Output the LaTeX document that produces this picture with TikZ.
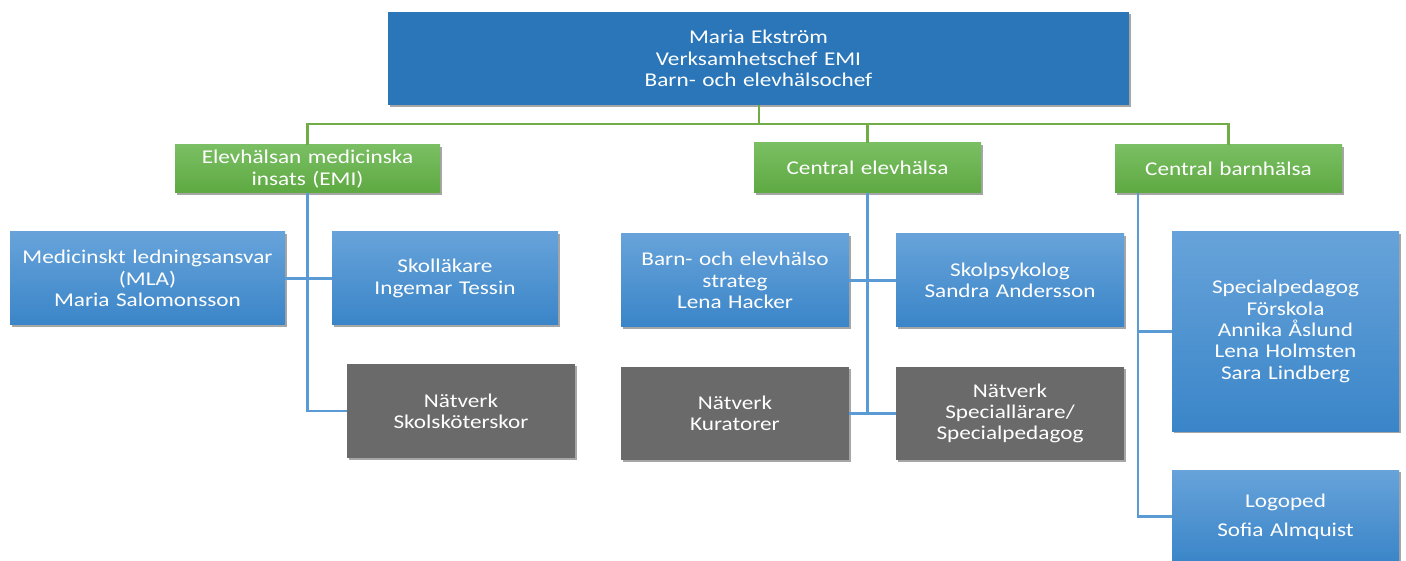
\documentclass[tikz,border=0pt]{standalone}
\usepackage{fontspec}
\setmainfont[FakeStretch=1.19]{Carlito}
\usetikzlibrary{shadows}
\definecolor{topblue}{HTML}{2A76B8}
\definecolor{gtop}{HTML}{7ABF63}
\definecolor{gbot}{HTML}{5EA942}
\definecolor{btop}{HTML}{67A3DA}
\definecolor{bbot}{HTML}{3A85C8}
\definecolor{boxgray}{HTML}{6A6A6A}
\definecolor{gline}{HTML}{70AD47}
\definecolor{bline}{HTML}{5B9BD5}
\tikzset{
  box/.style={rectangle, anchor=north west, inner sep=2pt, outer sep=0pt, align=center,
    text=white, font=\fontsize{19.5}{21.3}\selectfont,
    drop shadow={shadow xshift=1.5pt, shadow yshift=-2pt, opacity=0.35, fill=black}},
  wh/.style 2 args={minimum width=#1pt, minimum height=#2pt, text width=#1pt-8pt},
  topbox/.style={box, fill=topblue},
  greenbox/.style={box, top color=gtop, bottom color=gbot},
  bluebox/.style={box, top color=btop, bottom color=bbot},
  graybox/.style={box, fill=boxgray},
  gconn/.style={draw=gline, line width=2.2pt},
  bconn/.style={draw=bline, line width=2.2pt},
}
\begin{document}
\begin{tikzpicture}[x=1pt,y=-1pt]
\useasboundingbox (0,0) rectangle (1406,561);
\clip (0,0) rectangle (1406,561);
\fill[white] (0,0) rectangle (1406,561);

\node[topbox, wh={741}{93}] (top) at (388,12) {Maria Ekström\\Verksamhetschef EMI\\Barn- och elevhälsochef};

\node[greenbox, wh={265}{48}] (emi) at (175,145) {Elevhälsan medicinska\\insats (EMI)};
\node[greenbox, wh={227}{50}] (ceh) at (754,143) {Central elevhälsa};
\node[greenbox, wh={227}{48}] (cbh) at (1115,145) {Central barnhälsa};

\node[bluebox, wh={275}{93}] (mla) at (10,232) {Medicinskt ledningsansvar\\(MLA)\\Maria Salomonsson};
\node[bluebox, wh={226}{93}] (lak) at (332,232) {Skolläkare\\Ingemar Tessin};
\node[graybox, wh={228}{94}] (nss) at (347,364) {Nätverk\\Skolsköterskor};

\node[bluebox, wh={228}{93}] (strat) at (621,234) {Barn- och elevhälso\\strateg\\Lena Hacker};
\node[bluebox, wh={228}{93}] (psyk) at (896,234) {Skolpsykolog\\Sandra Andersson};
\node[graybox, wh={228}{93}] (kur) at (621,367) {Nätverk\\Kuratorer};
\node[graybox, wh={228}{93}] (spl) at (896,367) {Nätverk\\Speciallärare/\\Specialpedagog};

\node[bluebox, wh={227}{199}] (spf) at (1172,232) {Specialpedagog\\Förskola\\Annika Åslund\\Lena Holmsten\\Sara Lindberg};
\node[bluebox, wh={227}{93}] (log) at (1172,470) {Logoped\\[8pt]Sofia Almquist};

% green connectors
\coordinate (tb) at (759,124);
\draw[gconn] (top.south -| tb) -- (tb);
\draw[gconn] (emi.north) |- (cbh.north |- tb) -- (cbh.north);
\draw[gconn] (ceh.north) -- (ceh.north |- tb);

% blue connectors
\draw[bconn] (emi.south) |- (nss.west);
\draw[bconn] (mla.east) -- (lak.west);
\draw[bconn] (ceh.south) -- (ceh.south |- kur.east);
\draw[bconn] (strat.east) -- (psyk.west);
\draw[bconn] (kur.east) -- (spl.west);
\coordinate (cbhx) at (1138,193);
\draw[bconn] (cbhx) |- (log.west);
\draw[bconn] (cbhx |- spf.west) -- (spf.west);
\end{tikzpicture}
\end{document}
